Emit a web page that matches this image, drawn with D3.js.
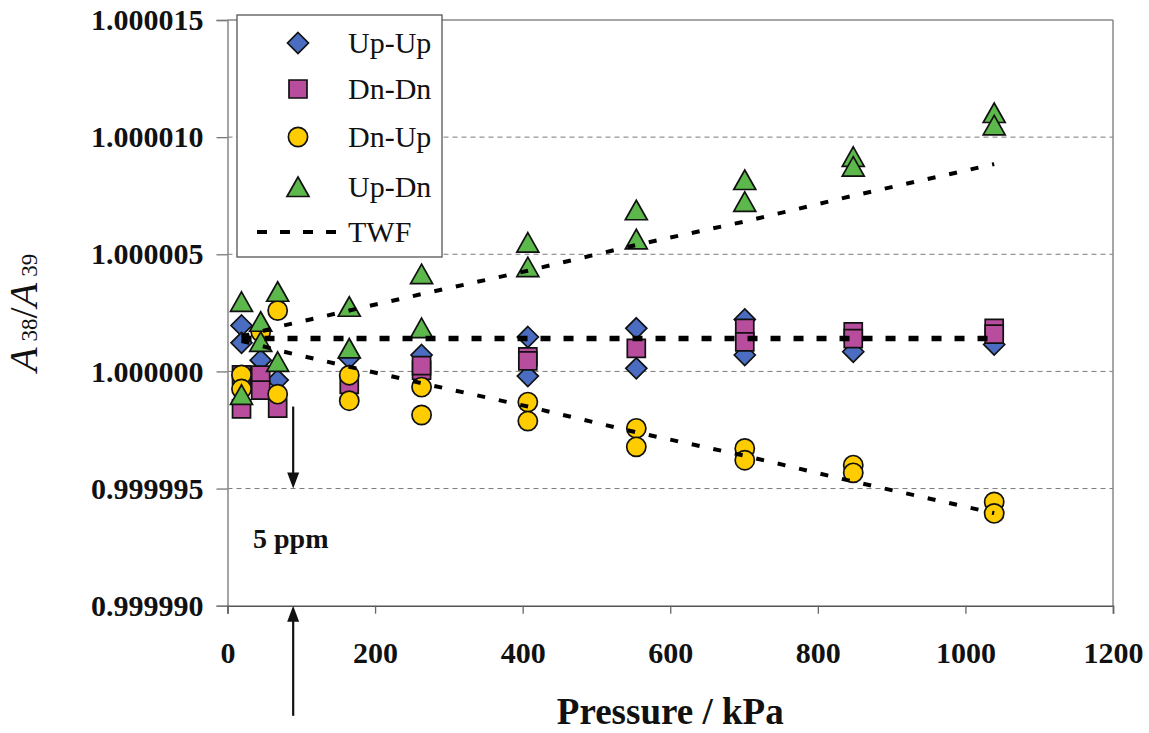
<!DOCTYPE html>
<html>
<head>
<meta charset="utf-8">
<script src="https://cdn.jsdelivr.net/npm/d3@7"></script>
<style>
  body { margin: 0; background: #fff; }
  svg { display: block; font-family: "Liberation Serif", "Times New Roman", serif; }
</style>
</head>
<body>
<div id="chart"></div>
<script>
// pressures (kPa) of the measurement columns
var pressure = [19, 45, 68, 165, 263, 407, 554, 701, 848, 1039];

// two runs per series (null = hidden behind other markers)
var upUp1 = [1.00000196, 1.00000048, 0.99999963, 1.00000057, 1.00000070, 1.00000147, 1.00000184, 1.00000222, 1.00000084, 1.00000115];
var upUp2 = [1.00000122, null, null, null, null, 0.99999980, 1.00000013, 1.00000070, null, null];
var dnDn1 = [0.99999985, 0.99999984, 0.99999843, 0.99999945, 1.00000005, 1.00000062, 1.00000098, 1.00000184, 1.00000169, 1.00000184];
var dnDn2 = [0.99999840, 0.99999920, null, null, 1.00000025, 1.00000045, null, 1.00000126, 1.00000140, 1.00000159];
var dnUp1 = [0.99999985, 1.00000169, 1.00000260, 0.99999984, 0.99999933, 0.99999869, 0.99999757, 0.99999671, 0.99999600, 0.99999443];
var dnUp2 = [0.99999925, null, 0.99999903, 0.99999875, 0.99999814, 0.99999788, 0.99999678, 0.99999621, 0.99999567, 0.99999394];
var upDn1 = [1.00000297, 1.00000212, 1.00000340, 1.00000276, 1.00000415, 1.00000550, 1.00000688, 1.00000817, 1.00000916, 1.00001103];
var upDn2 = [0.99999900, 1.00000126, 1.00000041, 1.00000098, 1.00000185, 1.00000445, 1.00000564, 1.00000724, 1.00000874, 1.00001050];

// TWF model lines
var twfMid   = [1.0000014, 1.0000014, 1.0000014, 1.0000014, 1.0000014, 1.0000014, 1.0000014, 1.0000014, 1.0000014, 1.0000014];
var twfUpper = [1.0000015, 1.0000017, 1.0000019, 1.0000026, 1.0000033, 1.0000043, 1.0000054, 1.0000064, 1.0000075, 1.00000885];
var twfLower = [1.0000013, 1.0000011, 1.0000009, 1.0000002, 0.9999995, 0.9999985, 0.9999974, 0.9999964, 0.9999953, 0.99999395];

var xTicks = [0, 200, 400, 600, 800, 1000, 1200];
var yTicks = [0.999990, 0.999995, 1.000000, 1.000005, 1.000010, 1.000015];

var seriesNames = ["Up-Up", "Dn-Dn", "Dn-Up", "Up-Dn"];
var seriesColors = ["#4a6cc1", "#b84d9e", "#ffcc00", "#5cb84a"];

// 5 ppm annotation
var arrowP = 89;
var arrowDown = [0.9999985, 0.999995];
var arrowUp = [0.9999853, 0.999990];

var W = 1149, H = 733;
var svg = d3.select("#chart").append("svg")
    .attr("width", W)
    .attr("height", H);

var x = d3.scaleLinear().domain([0, 1200]).range([227.5, 1113]);
var y = d3.scaleLinear().domain([0.999990, 1.000015]).range([605.7, 20]);

//gridlines
svg.append("g")
    .selectAll("line")
    .data(yTicks.slice(1, -1))
    .enter()
    .append("line")
    .attr("x1", x(0)).attr("x2", x(1200))
    .attr("y1", d => y(d)).attr("y2", d => y(d))
    .attr("stroke", "#7a7a7a")
    .attr("stroke-width", 1)
    .attr("stroke-dasharray", "5,4");

// frame
svg.append("line").attr("x1", x(0)).attr("x2", x(1200)).attr("y1", y(1.000015)).attr("y2", y(1.000015))
    .attr("stroke", "#888").attr("stroke-width", 1.3);
svg.append("line").attr("x1", x(1200)).attr("x2", x(1200)).attr("y1", y(1.000015)).attr("y2", y(0.99999))
    .attr("stroke", "#888").attr("stroke-width", 1.5);

// axes
var yAxis = svg.append("g")
    .attr("transform", "translate(" + x(0) + ",0)")
    .call(d3.axisLeft(y).tickValues(yTicks).tickFormat(d3.format(".6f")).tickSize(11).tickPadding(13))
    .call(g => g.select(".domain").attr("stroke", "#888").attr("stroke-width", 1.5));
yAxis.selectAll(".tick line").attr("stroke", "#777").attr("stroke-width", 1.3);
yAxis.selectAll("text")
    .attr("font-family", "Liberation Serif")
    .attr("font-weight", "bold")
    .attr("font-size", "30px")
    .attr("fill", "#111");

var xAxis = svg.append("g")
    .attr("transform", "translate(0," + y(0.99999) + ")")
    .call(d3.axisBottom(x).tickValues(xTicks).tickFormat(d3.format("d")).tickSize(8).tickPadding(0))
    .call(g => g.select(".domain").attr("stroke", "#555").attr("stroke-width", 1.6));
xAxis.selectAll(".tick line").attr("stroke", "#666").attr("stroke-width", 1.3);
xAxis.selectAll("text")
    .attr("y", 57)
    .attr("dy", null)
    .attr("font-family", "Liberation Serif")
    .attr("font-weight", "bold")
    .attr("font-size", "30px")
    .attr("fill", "#111");

// axis titles
svg.append("text")
    .attr("x", (x(0) + x(1200)) / 2)
    .attr("y", 724)
    .attr("text-anchor", "middle")
    .attr("font-weight", "bold")
    .attr("font-size", "37px")
    .attr("fill", "#111")
    .text("Pressure / kPa");

var yt = svg.append("text")
    .attr("transform", "translate(37," + ((y(1.000015) + y(0.99999)) / 2) + ") rotate(-90)")
    .attr("text-anchor", "middle")
    .attr("fill", "#111");
yt.append("tspan").attr("font-style", "italic").attr("font-size", "40px").text("A");
yt.append("tspan").attr("dx", 6).attr("font-size", "23px").text("38");
yt.append("tspan").attr("font-size", "40px").text("/");
yt.append("tspan").attr("font-style", "italic").attr("font-size", "40px").text("A");
yt.append("tspan").attr("dx", 6).attr("font-size", "23px").text("39");

// marker shapes
function markerPath(i) {
    if (i === 0) return "M0,-10.5L10.5,0L0,10.5L-10.5,0Z";
    if (i === 1) return "M-9,-9L9,-9L9,9L-9,9Z";
    if (i === 2) return d3.symbol().type(d3.symbolCircle).size(290)();
    return "M0,-10L11,9.5L-11,9.5Z";
}

var runs = [[upUp1, upUp2], [dnDn1, dnDn2], [dnUp1, dnUp2], [upDn1, upDn2]];

runs.forEach(function (r, i) {
    var pts = [];
    r.forEach(function (vals) {
        vals.forEach(function (v, j) {
            if (v !== null) pts.push({ p: pressure[j], v: v });
        });
    });
    svg.append("g")
        .selectAll("path")
        .data(pts)
        .enter()
        .append("path")
        .attr("d", markerPath(i))
        .attr("transform", d => "translate(" + x(d.p) + "," + y(d.v) + ")")
        .attr("fill", seriesColors[i])
        .attr("stroke", "#111")
        .attr("stroke-width", 1.7);
});

// TWF lines
var line = d3.line()
    .x((d, i) => x(pressure[i]))
    .y(d => y(d));

svg.append("path")
    .attr("d", line(twfMid))
    .attr("fill", "none")
    .attr("stroke", "#000")
    .attr("stroke-width", 5.5)
    .attr("stroke-dasharray", "10,13");

[twfUpper, twfLower].forEach(function (arr) {
    svg.append("path")
        .attr("d", line(arr))
        .attr("fill", "none")
        .attr("stroke", "#000")
        .attr("stroke-width", 4)
        .attr("stroke-dasharray", "8,14");
});

// legend
var lg = svg.append("g");
lg.append("rect")
    .attr("x", 237).attr("y", 15)
    .attr("width", 205).attr("height", 242)
    .attr("fill", "#fff")
    .attr("stroke", "#555")
    .attr("stroke-width", 1.3);

var rowY = [43, 89, 137, 187];
seriesNames.forEach(function (name, i) {
    lg.append("path")
        .attr("d", markerPath(i))
        .attr("transform", "translate(298," + rowY[i] + ")")
        .attr("fill", seriesColors[i])
        .attr("stroke", "#111")
        .attr("stroke-width", 1.7);
    lg.append("text")
        .attr("x", 348)
        .attr("y", rowY[i] + 10)
        .attr("font-size", "30px")
        .attr("fill", "#111")
        .text(name);
});
lg.append("line")
    .attr("x1", 257).attr("x2", 337)
    .attr("y1", 232).attr("y2", 232)
    .attr("stroke", "#000")
    .attr("stroke-width", 4)
    .attr("stroke-dasharray", "10,13");
lg.append("text")
    .attr("x", 348)
    .attr("y", 242)
    .attr("font-size", "30px")
    .attr("fill", "#111")
    .text("TWF");

// 5 ppm arrows
function arrow(from, to) {
    var ax = x(arrowP), y0 = y(from), y1 = y(to);
    var dir = y1 > y0 ? 1 : -1;
    svg.append("line")
        .attr("x1", ax).attr("x2", ax)
        .attr("y1", y0).attr("y2", y1 - dir * 12)
        .attr("stroke", "#111")
        .attr("stroke-width", 2.2);
    svg.append("path")
        .attr("d", "M" + ax + "," + y1 + "L" + (ax - 6) + "," + (y1 - dir * 16) + "L" + (ax + 6) + "," + (y1 - dir * 16) + "Z")
        .attr("fill", "#111");
}
arrow(arrowDown[0], arrowDown[1]);
arrow(arrowUp[0], arrowUp[1]);

svg.append("text")
    .attr("x", 253)
    .attr("y", 548)
    .attr("font-weight", "bold")
    .attr("font-size", "28px")
    .attr("fill", "#111")
    .text("5 ppm");
</script>
</body>
</html>
